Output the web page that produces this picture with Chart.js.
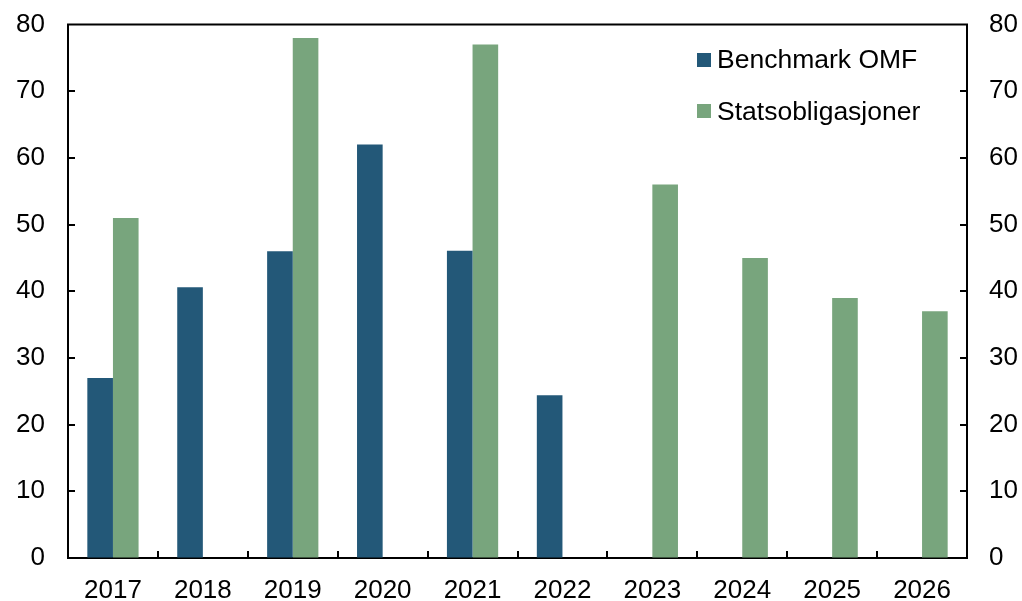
<!DOCTYPE html>
<html>
<head>
<meta charset="utf-8">
<script src="https://cdn.jsdelivr.net/npm/chart.js@4"></script>
<style>
html,body{margin:0;padding:0;background:#fff;overflow:hidden;}
#wrap{position:relative;width:1022px;height:601px;overflow:hidden;}
canvas{display:block;position:absolute;left:0;top:-14px;}
.leg{position:absolute;left:717px;font-family:"Liberation Sans",Arial,sans-serif;font-size:26.5px;color:#000;line-height:26px;white-space:nowrap;}
.box{position:absolute;left:697px;width:14px;height:14px;}
</style>
</head>
<body>
<div id="wrap">
<canvas id="c" width="1022" height="615"></canvas>
<div class="box" style="top:53px;background:#235878"></div>
<div class="leg" style="top:46px;">Benchmark OMF</div>
<div class="box" style="top:104px;background:#78A57D"></div>
<div class="leg" style="top:98px;">Statsobligasjoner</div>
</div>
<script>
const categories = ["2017","2018","2019","2020","2021","2022","2023","2024","2025","2026"];
const benchmarkOMF = [27, 40.6, 46, 62, 46.1, 24.4, null, null, null, null];
const statsobligasjoner = [51, null, 78, null, 77, null, 56, 45, 39, 37];
const yTicks = [0,10,20,30,40,50,60,70,80];

const frame = {
  id: 'frame',
  afterDraw(chart) {
    const ctx = chart.ctx, a = chart.chartArea;
    ctx.save();
    ctx.strokeStyle = '#000';
    ctx.lineWidth = 2;
    ctx.beginPath();
    ctx.moveTo(a.left - 1, a.top); ctx.lineTo(a.right + 1, a.top);
    const y = chart.scales.y;
    yTicks.forEach(v => {
      const p = Math.round(y.getPixelForValue(v));
      if (v === 0 || v === 80) return;
      ctx.moveTo(a.left, p); ctx.lineTo(a.left + 7, p);
      ctx.moveTo(a.right, p); ctx.lineTo(a.right - 7, p);
    });
    const x = chart.scales.x;
    for (let i = 1; i < categories.length; i++) {
      const p = Math.round((x.getPixelForTick(i - 1) + x.getPixelForTick(i)) / 2);
      ctx.moveTo(p, a.bottom); ctx.lineTo(p, a.bottom - 7);
    }
    ctx.stroke();
    ctx.restore();
  }
};

const font = {family: '"Liberation Sans", Arial, sans-serif', size: 26};
new Chart(document.getElementById('c'), {
  type: 'bar',
  data: {
    labels: categories,
    datasets: [
      {label: 'Benchmark OMF', data: benchmarkOMF, backgroundColor: '#235878', yAxisID: 'y'},
      {label: 'Statsobligasjoner', data: statsobligasjoner, backgroundColor: '#78A57D', yAxisID: 'y'}
    ]
  },
  options: {
    responsive: false,
    animation: false,
    devicePixelRatio: 1,
    barPercentage: 1,
    categoryPercentage: 0.57,
    layout: {padding: {top: 11, right: 0, left: 0, bottom: 0}},
    plugins: {legend: {display: false}, tooltip: {enabled: false}},
    scales: {
      x: {
        grid: {drawOnChartArea: false, drawTicks: false},
        border: {display: true, color: '#000', width: 2},
        ticks: {font: font, color: '#000', padding: 17},
        afterFit(s) { s.height = 43; }
      },
      y: {
        position: 'left', min: 0, max: 80,
        grid: {drawOnChartArea: false, drawTicks: false},
        border: {display: true, color: '#000', width: 2},
        ticks: {font: font, color: '#000', padding: 23, stepSize: 10},
        afterFit(s) { s.width = 68; }
      },
      y2: {
        position: 'right', min: 0, max: 80,
        grid: {drawOnChartArea: false, drawTicks: false},
        border: {display: true, color: '#000', width: 2},
        ticks: {font: font, color: '#000', padding: 22, stepSize: 10},
        afterFit(s) { s.width = 55; }
      }
    }
  },
  plugins: [frame]
});
</script>
</body>
</html>
